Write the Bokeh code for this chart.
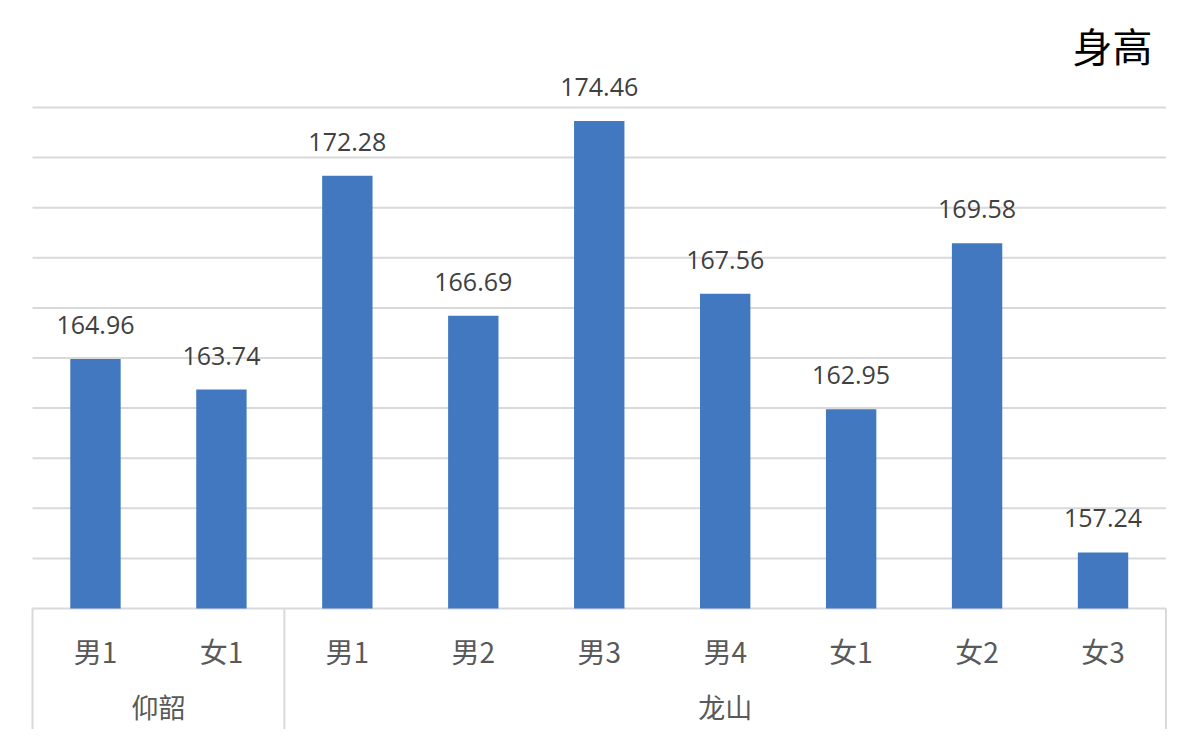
from bokeh.plotting import figure
from bokeh.models import Range1d, Label
from bokeh.core.properties import value
from bokeh.embed import file_html
from bokeh.resources import INLINE

# ---- data ----
title_text = "身高"
groups = ["仰韶", "龙山"]
group_members = [["男1", "女1"],
                 ["男1", "男2", "男3", "男4", "女1", "女2", "女3"]]
heights = [164.96, 163.74, 172.28, 166.69, 174.46, 167.56, 162.95, 169.58, 157.24]
y_ticks = [155, 157, 159, 161, 163, 165, 167, 169, 171, 173, 175]

# ---- layout (pixels) ----
W, H = 1184, 729
left_px, right_px = 32.0, 1165.5          # frame x of category band edges
base_px, top_px = H - 608.0, H - 107.0    # frame y (from bottom) of first/last tick

cat_labels = [m for mem in group_members for m in mem]
n = len(cat_labels)
xs = [i + 0.5 for i in range(n)]
unit_x = (right_px - left_px) / n
unit_y = (top_px - base_px) / (y_ticks[-1] - y_ticks[0])
y0 = y_ticks[0]
y_start = y0 - base_px / unit_y
y_end = y_ticks[-1] + (H - top_px) / unit_y

p = figure(width=W, height=H, output_backend="svg", toolbar_location=None,
           x_range=Range1d(-left_px / unit_x, n + (W - right_px) / unit_x),
           y_range=Range1d(y_start, y_end),
           x_axis_location=None, y_axis_location=None,
           min_border=0, outline_line_color=None,
           background_fill_color="white", border_fill_color="white")
p.grid.visible = False

grid_color = "#d9d9d9"
# horizontal gridlines over the category band
p.segment(x0=[0] * len(y_ticks), x1=[n] * len(y_ticks), y0=y_ticks, y1=y_ticks,
          line_color=grid_color, line_width=2)

# group separators (Excel-style multi-level axis)
bounds = [0]
for mem in group_members:
    bounds.append(bounds[-1] + len(mem))
p.segment(x0=bounds, x1=bounds, y0=[y0] * len(bounds), y1=[y_start] * len(bounds),
          line_color=grid_color, line_width=2)

# bars
p.vbar(x=xs, top=heights, bottom=y0, width=0.4, fill_color="#4178BF",
       line_color=None)

# data labels
p.text(x=xs, y=heights, text=[f"{h:.2f}" for h in heights], y_offset=-34,
       text_align="center", text_baseline="alphabetic",
       text_font=value("Open Sans"), text_font_size="25px", text_color="#404040")

# category labels
p.text(x=xs, y=[y0] * n, text=cat_labels, y_offset=42,
       text_align="center", text_baseline="middle",
       text_font=value("Noto Sans CJK SC"), text_font_size="28px",
       text_color="#595959")

# group labels
gx = [(bounds[i] + bounds[i + 1]) / 2 for i in range(len(groups))]
p.text(x=gx, y=[y0] * len(groups), text=groups, y_offset=98,
       text_align="center", text_baseline="middle",
       text_font=value("Noto Sans CJK SC"), text_font_size="27px",
       text_color="#595959")

# title
p.add_layout(Label(x=1152, y=H - 44, x_units="screen", y_units="screen",
                   text=title_text, text_align="right", text_baseline="middle",
                   text_font="Noto Sans CJK SC", text_font_size="40px",
                   text_color="#000000"))

open("out.html", "w").write(file_html(p, INLINE))
